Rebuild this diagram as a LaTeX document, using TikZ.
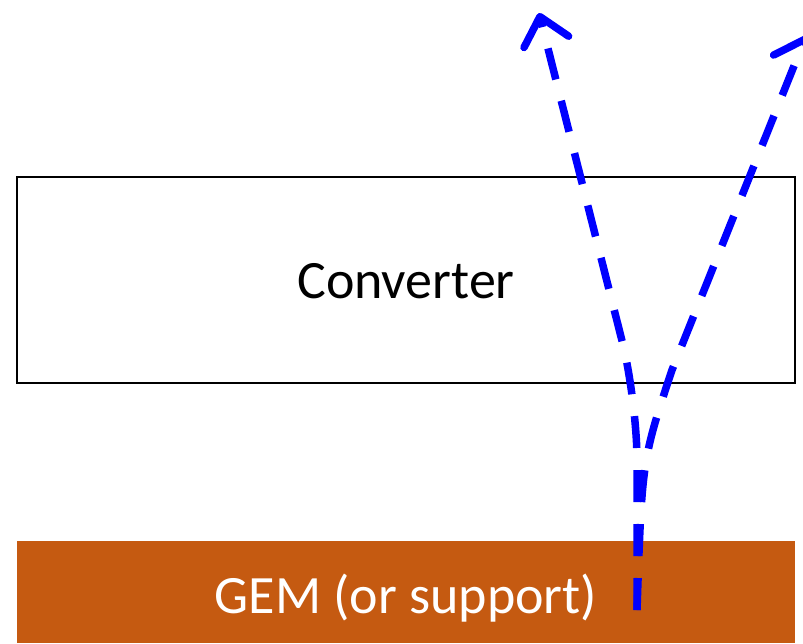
\documentclass[tikz,border=0pt]{standalone}
\usepackage{fontspec}
\setmainfont{Carlito}
\usetikzlibrary{arrows.meta}
\definecolor{gemorange}{HTML}{C55A11}
\definecolor{rayblue}{HTML}{0000FF}
\tikzset{
  layerbox/.style={draw=black, line width=2pt, minimum width=778pt, minimum height=206pt, inner sep=0pt, text height=36pt, text depth=0pt, font=\fontsize{54}{62}\selectfont},
  gembox/.style={fill=gemorange, text=white, minimum width=778pt, minimum height=102pt, inner sep=0pt, text height=42pt, text depth=0pt, font=\fontsize{54}{62}\selectfont},
  ray/.style={draw=rayblue, line width=7.5pt, dash pattern=on 32pt off 22pt,
    -{Straight Barb[length=26pt, width=46pt, line cap=round, line join=round]}}
}
\begin{document}
\begin{tikzpicture}[x=1pt, y=-1pt]
\useasboundingbox (0,0) rectangle (803,643);
\node[layerbox] (conv) at (406,280) {Converter};
\node[gembox] (gem) at (406,592) {GEM (or support)};
\coordinate (src) at (637,610);
\coordinate (bendL) at (637,400);
\coordinate (tipL) at (539,13);
\coordinate (bendR) at (672,370);
\coordinate (tipR) at (806,36);
\draw[ray, rounded corners=60pt] (src) -- (bendL) -- (tipL);
\draw[ray] (src) .. controls (642,460) .. (bendR) -- (tipR);
\end{tikzpicture}
\end{document}
